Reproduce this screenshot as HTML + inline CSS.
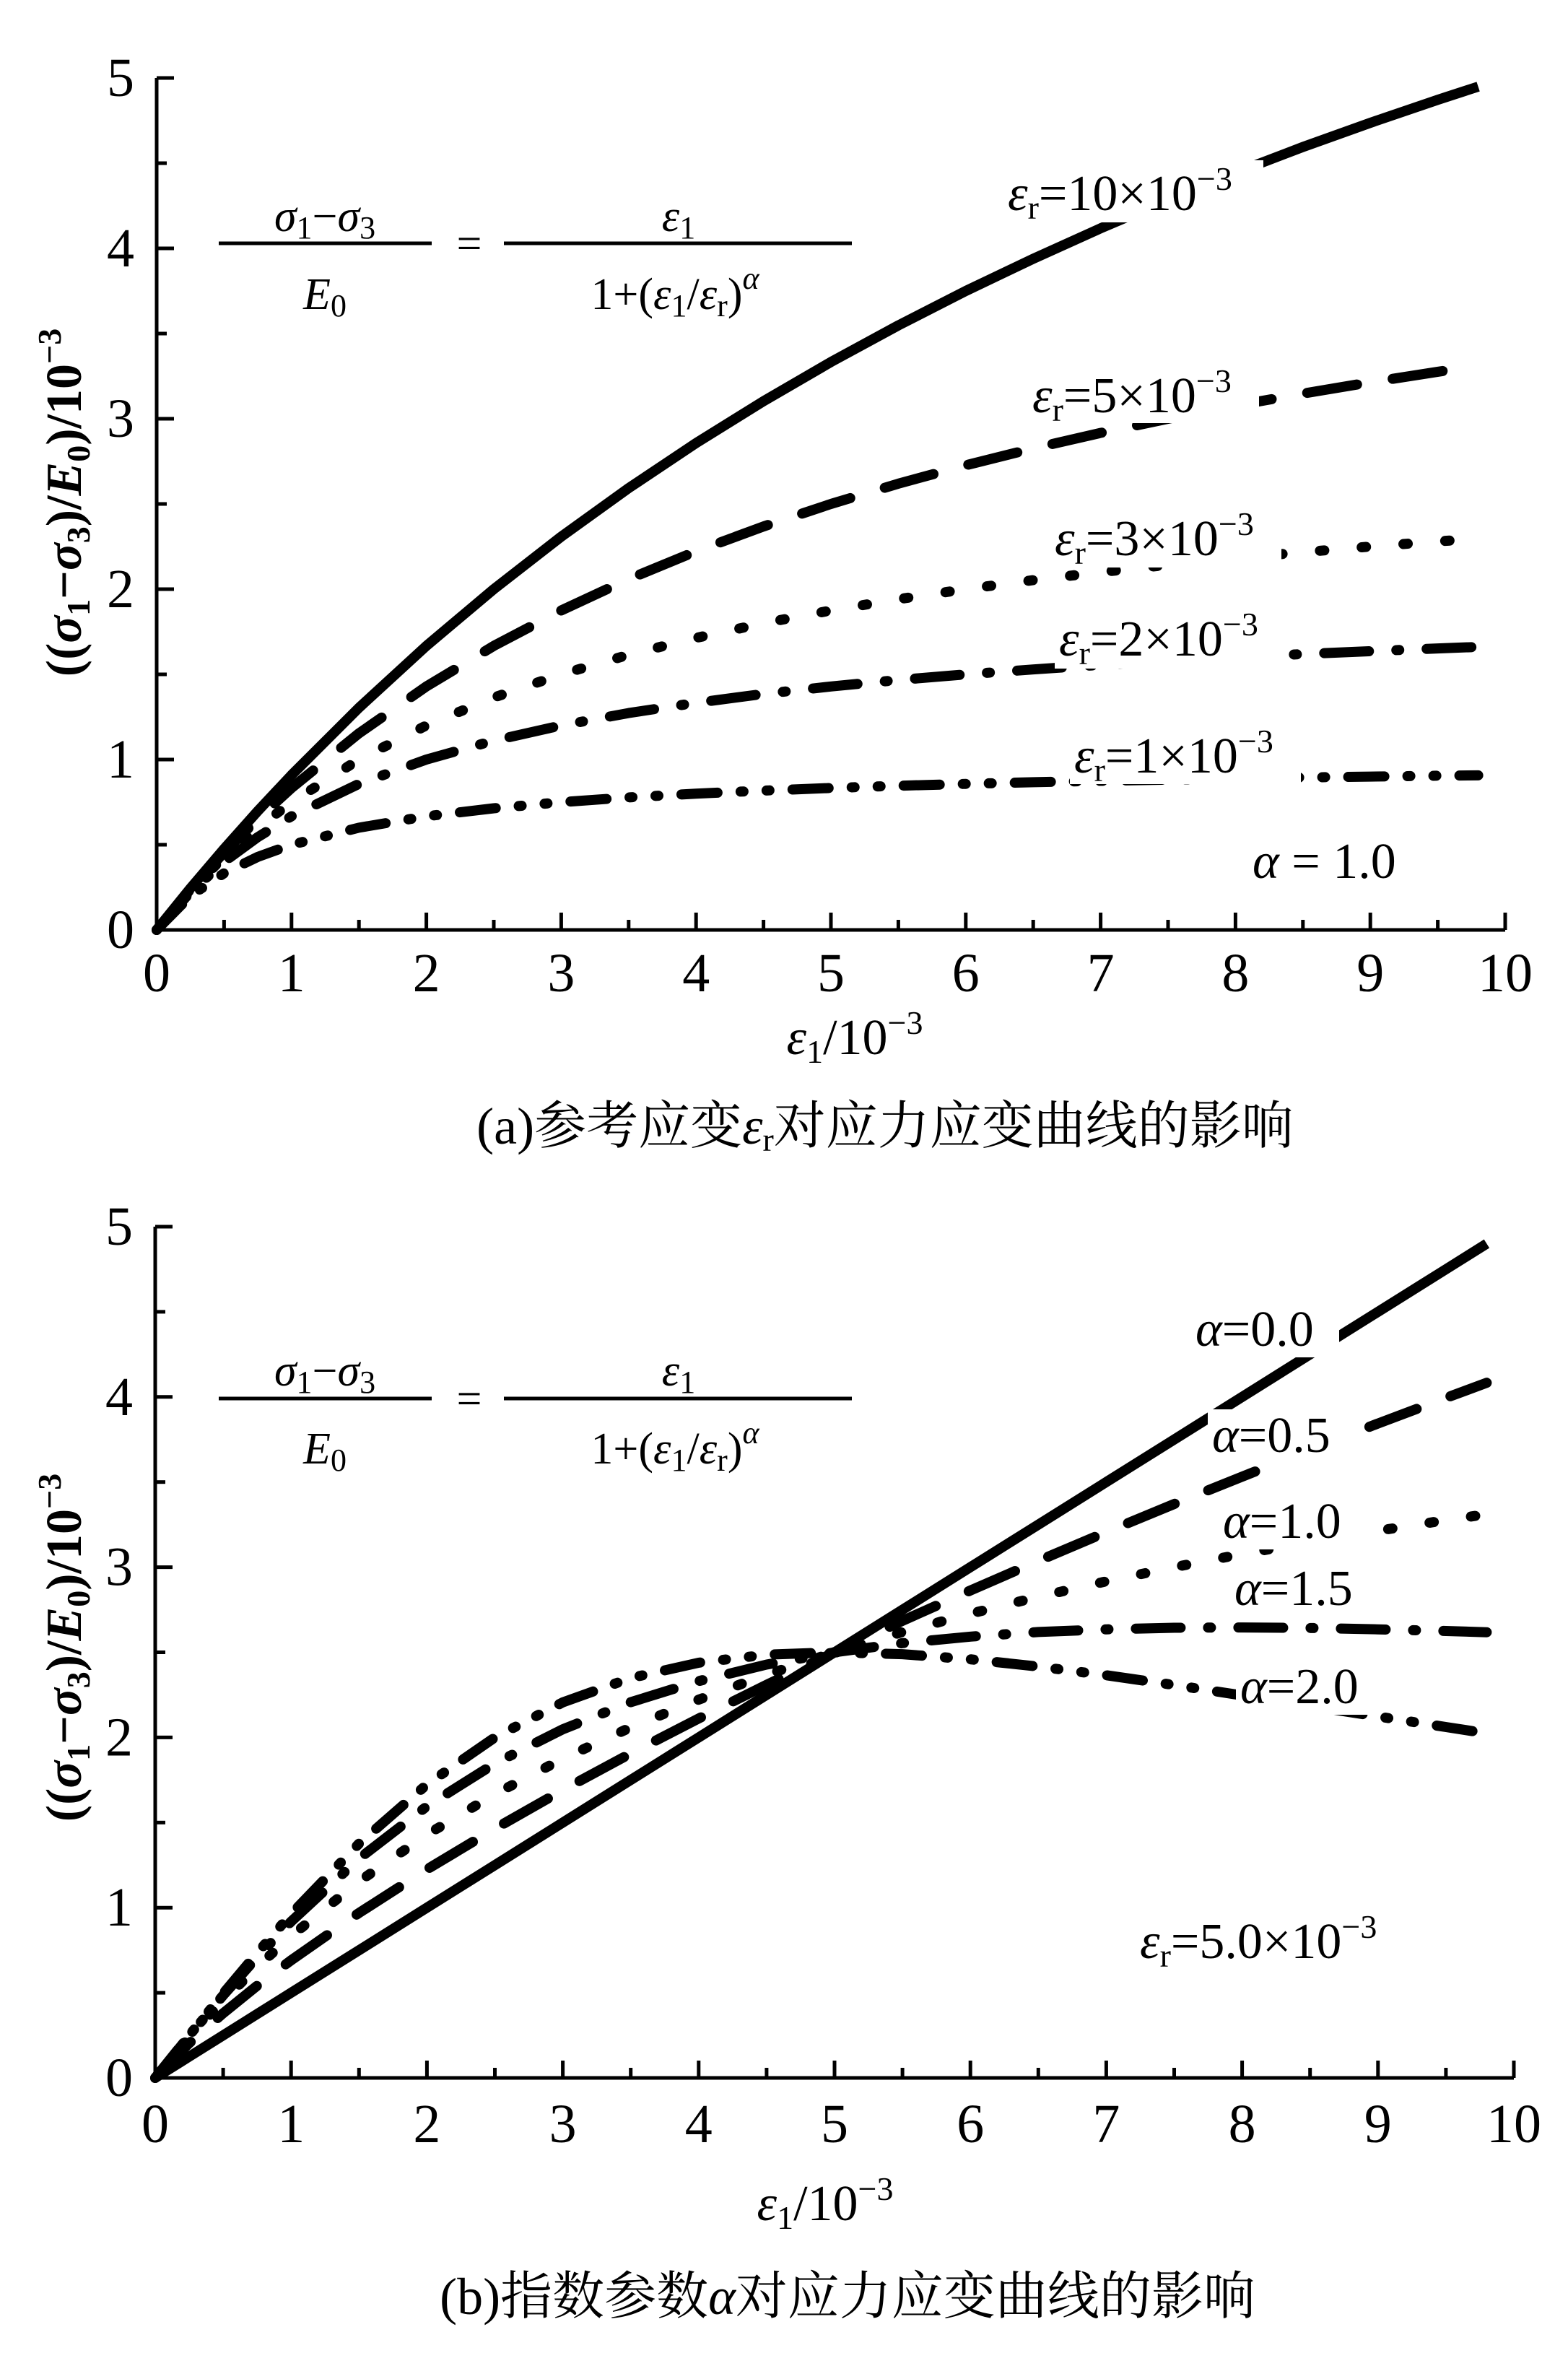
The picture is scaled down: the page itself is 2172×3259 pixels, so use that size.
<!DOCTYPE html>
<html><head><meta charset="utf-8"><style>
html,body{margin:0;padding:0;background:#fff;}
svg, svg text{font-family:"Liberation Serif","Times New Roman","Noto Serif CJK SC",serif;}
text{fill:#000;}
</style></head><body>
<svg id="fig" width="2172" height="3254" viewBox="0 0 2172 3254" xmlns="http://www.w3.org/2000/svg" font-family="Liberation Serif, Noto Serif CJK SC, serif">
<rect width="2172" height="3254" fill="#fff"/>
<g id="chartA"></g>
<g id="chartB"></g>

<g font-size="62">
  <text x="450" y="320" text-anchor="middle" font-style="italic">σ<tspan font-style="normal" font-size="44" dy="10">1</tspan><tspan dy="-10" font-style="normal">−</tspan>σ<tspan font-style="normal" font-size="44" dy="10">3</tspan></text>
  <line x1="303" y1="337" x2="598" y2="337" stroke="#000" stroke-width="5"/>
  <text x="450" y="428" text-anchor="middle" font-style="italic">E<tspan font-style="normal" font-size="44" dy="10">0</tspan></text>
  <text x="650" y="358" text-anchor="middle">=</text>
  <text x="940" y="320" text-anchor="middle" font-style="italic">ε<tspan font-style="normal" font-size="44" dy="10">1</tspan></text>
  <line x1="698" y1="337" x2="1180" y2="337" stroke="#000" stroke-width="5"/>
  <text x="935" y="428" text-anchor="middle">1+(<tspan font-style="italic">ε</tspan><tspan font-size="44" dy="10">1</tspan><tspan dy="-10">/</tspan><tspan font-style="italic">ε</tspan><tspan font-size="44" dy="10">r</tspan><tspan dy="-10">)</tspan><tspan font-style="italic" font-size="44" dy="-28">α</tspan></text>
</g>
<g font-size="70">
  <g><rect x="1390" y="222" width="360" height="86" fill="#fff"/><text x="1396" y="291"><tspan font-style="italic">ε</tspan><tspan font-size="46" dy="12">r</tspan><tspan dy="-12">=10×10</tspan><tspan font-size="46" dy="-28">−3</tspan></text></g>
  <g><rect x="1424" y="500" width="320" height="86" fill="#fff"/><text x="1430" y="571"><tspan font-style="italic">ε</tspan><tspan font-size="46" dy="12">r</tspan><tspan dy="-12">=5×10</tspan><tspan font-size="46" dy="-28">−3</tspan></text></g>
  <g><rect x="1455" y="700" width="320" height="86" fill="#fff"/><text x="1461" y="769"><tspan font-style="italic">ε</tspan><tspan font-size="46" dy="12">r</tspan><tspan dy="-12">=3×10</tspan><tspan font-size="46" dy="-28">−3</tspan></text></g>
  <g><rect x="1461" y="840" width="320" height="86" fill="#fff"/><text x="1467" y="908"><tspan font-style="italic">ε</tspan><tspan font-size="46" dy="12">r</tspan><tspan dy="-12">=2×10</tspan><tspan font-size="46" dy="-28">−3</tspan></text></g>
  <g><rect x="1482" y="1000" width="320" height="86" fill="#fff"/><text x="1488" y="1070"><tspan font-style="italic">ε</tspan><tspan font-size="46" dy="12">r</tspan><tspan dy="-12">=1×10</tspan><tspan font-size="46" dy="-28">−3</tspan></text></g>
  <text x="1735" y="1216"><tspan font-style="italic">α</tspan> = 1.0</text>
</g>
<text x="1184" y="1460" text-anchor="middle" font-size="70"><tspan font-style="italic">ε</tspan><tspan font-size="46" dy="12">1</tspan><tspan dy="-12">/10</tspan><tspan font-size="46" dy="-28">−3</tspan></text>
<text transform="translate(112,696) rotate(-90)" text-anchor="middle" font-size="70" font-weight="bold">((<tspan font-style="italic">σ</tspan><tspan font-size="46" dy="12">1</tspan><tspan dy="-12">−</tspan><tspan font-style="italic">σ</tspan><tspan font-size="46" dy="12">3</tspan><tspan dy="-12">)/</tspan><tspan font-style="italic">E</tspan><tspan font-size="46" dy="12">0</tspan><tspan dy="-12">)/10</tspan><tspan font-size="46" dy="-28">−3</tspan></text>
<text x="1226" y="1584" text-anchor="middle" font-size="72">(a)参考应变<tspan font-style="italic">ε</tspan><tspan font-size="46" dy="10">r</tspan><tspan dy="-10">对应力应变曲线的影响</tspan></text>

<g font-size="62">
  <text x="450" y="1919" text-anchor="middle" font-style="italic">σ<tspan font-style="normal" font-size="44" dy="10">1</tspan><tspan dy="-10" font-style="normal">−</tspan>σ<tspan font-style="normal" font-size="44" dy="10">3</tspan></text>
  <line x1="303" y1="1937" x2="598" y2="1937" stroke="#000" stroke-width="5"/>
  <text x="450" y="2027" text-anchor="middle" font-style="italic">E<tspan font-style="normal" font-size="44" dy="10">0</tspan></text>
  <text x="650" y="1958" text-anchor="middle">=</text>
  <text x="940" y="1919" text-anchor="middle" font-style="italic">ε<tspan font-style="normal" font-size="44" dy="10">1</tspan></text>
  <line x1="698" y1="1937" x2="1180" y2="1937" stroke="#000" stroke-width="5"/>
  <text x="935" y="2027" text-anchor="middle">1+(<tspan font-style="italic">ε</tspan><tspan font-size="44" dy="10">1</tspan><tspan dy="-10">/</tspan><tspan font-style="italic">ε</tspan><tspan font-size="44" dy="10">r</tspan><tspan dy="-10">)</tspan><tspan font-style="italic" font-size="44" dy="-28">α</tspan></text>
</g>
<g font-size="70">
  <g><rect x="1650" y="1805" width="205" height="75" fill="#fff"/><text x="1656" y="1864"><tspan font-style="italic">α</tspan>=0.0</text></g>
  <g><rect x="1673" y="1952" width="205" height="75" fill="#fff"/><text x="1679" y="2011"><tspan font-style="italic">α</tspan>=0.5</text></g>
  <g><rect x="1688" y="2071" width="195" height="75" fill="#fff"/><text x="1694" y="2130"><tspan font-style="italic">α</tspan>=1.0</text></g>
  <g><rect x="1704" y="2164" width="195" height="75" fill="#fff"/><text x="1710" y="2223"><tspan font-style="italic">α</tspan>=1.5</text></g>
  <g><rect x="1712" y="2300" width="200" height="75" fill="#fff"/><text x="1718" y="2359"><tspan font-style="italic">α</tspan>=2.0</text></g>
  <text x="1579" y="2712"><tspan font-style="italic">ε</tspan><tspan font-size="46" dy="12">r</tspan><tspan dy="-12">=5.0×10</tspan><tspan font-size="46" dy="-28">−3</tspan></text>
</g>
<text x="1143" y="3075" text-anchor="middle" font-size="70"><tspan font-style="italic">ε</tspan><tspan font-size="46" dy="12">1</tspan><tspan dy="-12">/10</tspan><tspan font-size="46" dy="-28">−3</tspan></text>
<text transform="translate(112,2282) rotate(-90)" text-anchor="middle" font-size="70" font-weight="bold">((<tspan font-style="italic">σ</tspan><tspan font-size="46" dy="12">1</tspan><tspan dy="-12">−</tspan><tspan font-style="italic">σ</tspan><tspan font-size="46" dy="12">3</tspan><tspan dy="-12">)/</tspan><tspan font-style="italic">E</tspan><tspan font-size="46" dy="12">0</tspan><tspan dy="-12">)/10</tspan><tspan font-size="46" dy="-28">−3</tspan></text>
<text x="1174" y="3205" text-anchor="middle" font-size="72">(b)指数参数<tspan font-style="italic">α</tspan>对应力应变曲线的影响</text>
</svg>
<script>
const xs = [0,0.25,0.5,0.75,1,1.5,2,2.5,3,3.5,4,4.5,5,5.5,6,6.5,7,7.5,8,8.5,9,9.5,9.8];
const er10 = [0,0.244,0.476,0.698,0.909,1.304,1.667,2.0,2.308,2.593,2.857,3.103,3.333,3.548,3.75,3.939,4.118,4.286,4.444,4.595,4.737,4.872,4.949];
const er5 = [0,0.238,0.455,0.652,0.833,1.154,1.429,1.667,1.875,2.059,2.222,2.368,2.5,2.619,2.727,2.826,2.917,3.0,3.077,3.148,3.214,3.276,3.311];
const er3 = [0,0.231,0.429,0.6,0.75,1.0,1.2,1.364,1.5,1.615,1.714,1.8,1.875,1.941,2.0,2.053,2.1,2.143,2.182,2.217,2.25,2.28,2.297];
const er2 = [0,0.222,0.4,0.545,0.667,0.857,1.0,1.111,1.2,1.273,1.333,1.385,1.429,1.467,1.5,1.529,1.556,1.579,1.6,1.619,1.636,1.652,1.661];
const er1 = [0,0.2,0.333,0.429,0.5,0.6,0.667,0.714,0.75,0.778,0.8,0.818,0.833,0.846,0.857,0.867,0.875,0.882,0.889,0.895,0.9,0.905,0.907];
const a00 = [0,0.125,0.25,0.375,0.5,0.75,1,1.25,1.5,1.75,2,2.25,2.5,2.75,3,3.25,3.5,3.75,4,4.25,4.5,4.75,4.9];
const a05 = [0,0.204,0.380,0.541,0.691,0.969,1.225,1.464,1.691,1.906,2.111,2.309,2.5,2.685,2.863,3.037,3.206,3.371,3.532,3.690,3.844,3.994,4.083];
const a10 = [0,0.238,0.455,0.652,0.833,1.154,1.429,1.667,1.875,2.059,2.222,2.368,2.5,2.619,2.727,2.826,2.917,3.0,3.077,3.148,3.214,3.276,3.311];
const a15 = [0,0.247,0.485,0.709,0.918,1.288,1.596,1.847,2.048,2.207,2.331,2.428,2.5,2.554,2.592,2.619,2.635,2.644,2.646,2.643,2.635,2.625,2.618];
const a20 = [0,0.249,0.495,0.733,0.962,1.376,1.724,2.0,2.206,2.349,2.439,2.486,2.5,2.489,2.459,2.416,2.365,2.308,2.247,2.185,2.123,2.061,2.024];
const xTicks = [0,1,2,3,4,5,6,7,8,9,10];
const yTicks = [0,1,2,3,4,5];

const NS = 'http://www.w3.org/2000/svg';
const styles = { solid:'none', dash:'70 50', dot:'6 52', dashdot:'62 38 4 38', dashdotdot:'50 32 4 32 4 32' };

function drawChart(g, geom, series, tickBase){
  const X = v => geom.x0 + (geom.x1-geom.x0)*v/10;
  const Y = v => geom.y0 - (geom.y0-geom.y1)*v/5;
  series.forEach(s=>{
    const p = document.createElementNS(NS,'path');
    
    
    let d=''; xs.forEach((x,i)=>{d+=(i?'L':'M')+X(x).toFixed(1)+','+Y(s.vals[i]).toFixed(1);});
    p.setAttribute('d',d);p.setAttribute('fill','none');p.setAttribute('stroke','#000');
    p.setAttribute('stroke-width','14');p.setAttribute('stroke-linecap',s.style==='solid'?'butt':'round');p.setAttribute('stroke-linejoin','round');
    if(styles[s.style]!=='none')p.setAttribute('stroke-dasharray',styles[s.style]);
    g.appendChild(p);
  });
  const ax = document.createElementNS(NS,'path');
  
  
  ax.setAttribute('d',`M${geom.x0},${Y(5)}L${geom.x0},${geom.y0}L${X(10)},${geom.y0}`);
  ax.setAttribute('fill','none');ax.setAttribute('stroke','#000');ax.setAttribute('stroke-width','5');
  g.appendChild(ax);
  for(let i=0;i<=20;i++){
    const v=i/2, len = i%2===0?24:14;
    const t=document.createElementNS(NS,'line');
    
    
    t.setAttribute('x1',X(v));t.setAttribute('x2',X(v));t.setAttribute('y1',geom.y0);t.setAttribute('y2',geom.y0-len);
    t.setAttribute('stroke','#000');t.setAttribute('stroke-width','5');g.appendChild(t);
  }
  for(let i=0;i<=10;i++){
    const v=i/2, len = i%2===0?24:14;
    const t=document.createElementNS(NS,'line');
    
    
    t.setAttribute('x1',geom.x0);t.setAttribute('x2',geom.x0+len);t.setAttribute('y1',Y(v));t.setAttribute('y2',Y(v));
    t.setAttribute('stroke','#000');t.setAttribute('stroke-width','5');g.appendChild(t);
  }
  xTicks.forEach(v=>{
    const t=document.createElementNS(NS,'text');
    
    
    t.setAttribute('x',X(v));t.setAttribute('y',tickBase);t.setAttribute('text-anchor','middle');t.setAttribute('font-size','76');
    t.textContent=String(v);g.appendChild(t);
  });
  yTicks.forEach(v=>{
    const t=document.createElementNS(NS,'text');
    
    
    t.setAttribute('x',geom.x0-50);t.setAttribute('y',Y(v)+25);t.setAttribute('text-anchor','middle');t.setAttribute('font-size','76');
    t.textContent=String(v);g.appendChild(t);
  });
}

drawChart(document.getElementById('chartA'),{x0:217,x1:2085,y0:1288,y1:108},[
  {name:'curve-er10',vals:er10,style:'solid'},
  {name:'curve-er5',vals:er5,style:'dash'},
  {name:'curve-er3',vals:er3,style:'dot'},
  {name:'curve-er2',vals:er2,style:'dashdot'},
  {name:'curve-er1',vals:er1,style:'dashdotdot'}
],1373);
drawChart(document.getElementById('chartB'),{x0:215,x1:2097,y0:2878,y1:1699},[
  {name:'curve-alpha-0',vals:a00,style:'solid'},
  {name:'curve-alpha-05',vals:a05,style:'dash'},
  {name:'curve-alpha-1',vals:a10,style:'dot'},
  {name:'curve-alpha-15',vals:a15,style:'dashdot'},
  {name:'curve-alpha-2',vals:a20,style:'dashdotdot'}
],2967);
</script>
</body></html>
